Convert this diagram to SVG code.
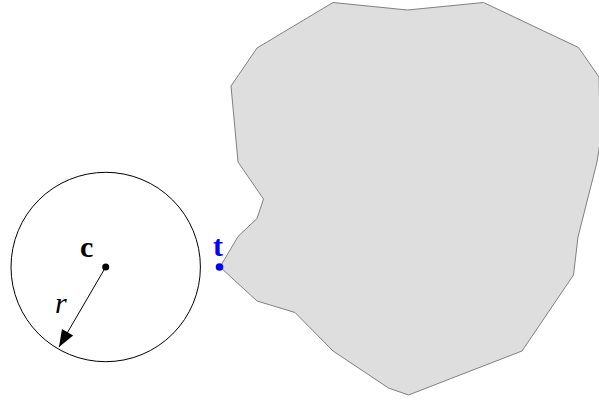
<svg xmlns="http://www.w3.org/2000/svg" width="599" height="402" viewBox="0 0 599 402">
<style>
.obst{fill:#dedede;stroke:#808080;stroke-width:1;stroke-linejoin:round}
.circ{fill:none;stroke:#000;stroke-width:1}
.lbl{font-family:"Liberation Serif","DejaVu Serif",serif;font-size:30px}
</style>
<defs>
<marker id="ah" markerUnits="userSpaceOnUse" markerWidth="20" markerHeight="16" viewBox="0 -8 18 16" refX="17" refY="0" orient="auto">
<path d="M0,-6.5 L17,0 L0,6.5 z" fill="#000"/>
</marker>
</defs>
<rect width="599" height="402" fill="#fff"/>
<g id="obstacle">
<polygon class="obst" points="333,2.5 407.5,10 483.5,2.5 578.5,47.5 599,77 600.5,140 597,162 578,237 573.5,275 522,351 408.5,395 388.5,388 333,351 295,312.5 257,301 220,267 238,236.5 257,218.5 263.5,199 238,162 231,86 257,48"/>
</g>
<g id="circle">
<circle class="circ" cx="105.7" cy="267" r="94.7"/>
<circle cx="105.7" cy="267" r="3.5" fill="#000"/>
<text class="lbl" x="80" y="257" font-weight="bold">c</text>
<text class="lbl" x="55" y="313" font-style="italic">r</text>
</g>
<g id="target">
<circle cx="219.5" cy="267" r="3.8" fill="#0000ff"/>
<text class="lbl" x="213" y="256" font-weight="bold" fill="#0000ff">t</text>
</g>
<g id="connectors">
<line x1="105.7" y1="267" x2="59" y2="347" stroke="#000" stroke-width="1" marker-end="url(#ah)"/>
</g>
</svg>
